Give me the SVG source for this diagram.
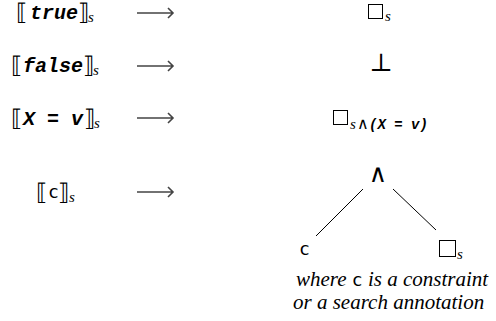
<svg xmlns="http://www.w3.org/2000/svg" width="496" height="321" viewBox="0 0 496 321">
<style>
.br{font-family:"DejaVu Serif",serif;font-size:23px;fill:#000}
.tt{font-family:"Liberation Mono","DejaVu Sans Mono",monospace;font-size:20px;font-weight:bold;font-style:italic;fill:#000}
.sub{font-family:"Liberation Serif","DejaVu Serif",serif;font-style:italic;font-size:15px;fill:#000}
.sym{font-family:"DejaVu Serif",serif;font-size:25px;fill:#000}
.cc{font-family:"DejaVu Sans Mono",monospace;font-size:18px;fill:#000}
.note{font-family:"Liberation Serif","DejaVu Serif",serif;font-style:italic;font-size:21px;fill:#000}
.box{fill:none;stroke:#000;stroke-width:1}
.arr{fill:none;stroke:#444;stroke-width:1.6}
.edge{stroke:#000;stroke-width:1}
</style>
<g id="lhs-true"><text class="br" x="16" y="20">⟦</text><text class="tt" x="30" y="19">true</text><text class="br" x="78" y="20">⟧</text><text class="sub" x="88" y="22">s</text></g>
<g id="lhs-false"><text class="br" x="11" y="73">⟦</text><text class="tt" x="23" y="72">false</text><text class="br" x="83" y="73">⟧</text><text class="sub" x="93" y="75">s</text></g>
<g id="lhs-eq"><text class="br" x="11" y="126">⟦</text><text class="tt" x="23" y="125" xml:space="preserve">X = v</text><text class="br" x="84" y="126">⟧</text><text class="sub" x="94" y="128">s</text></g>
<g id="lhs-c"><text class="br" x="36" y="200">⟦</text><text class="cc" x="48" y="198">c</text><text class="br" x="58" y="200">⟧</text><text class="sub" x="69" y="202">s</text></g>
<g id="connectors">
<path class="arr" d="M137,13H173M168,8L173,13L168,18"/>
<path class="arr" d="M137,66H173M168,61L173,66L168,71"/>
<path class="arr" d="M137,118H173M168,113L173,118L168,123"/>
<path class="arr" d="M137,192H173M168,187L173,192L168,197"/>
<line class="edge" x1="363" y1="189" x2="316" y2="236"/>
<line class="edge" x1="393" y1="189" x2="436" y2="230"/>
</g>
<g id="rhs-true"><rect class="box" x="368.5" y="4.5" width="14" height="14"/><text class="sub" x="385" y="21">s</text></g>
<g id="rhs-false"><text class="sym" x="381" y="71" text-anchor="middle">⊥</text></g>
<g id="rhs-eq"><rect class="box" x="333.5" y="110.5" width="14" height="14"/><text class="sub" x="350" y="129">s</text><text class="sym" x="357" y="129" style="font-size:16px">∧</text><text class="tt" x="369" y="129" style="font-size:14px" xml:space="preserve">(X = v)</text></g>
<g id="and-node"><text class="sym" x="378" y="182" text-anchor="middle">∧</text></g>
<g id="leaf-c"><text class="cc" x="299" y="255">c</text></g>
<g id="leaf-box"><rect class="box" x="439.5" y="240.5" width="16" height="16"/><text class="sub" x="457" y="259">s</text></g>
<g id="note"><text class="note" x="296" y="286">where <tspan style="font-family:'DejaVu Sans Mono',monospace;font-style:normal;font-size:18px">c</tspan> is a constraint</text><text class="note" x="293" y="309">or a search annotation</text></g>
</svg>
